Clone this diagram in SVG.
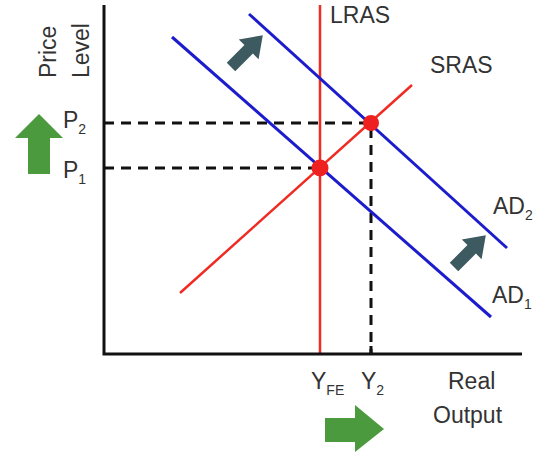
<svg xmlns="http://www.w3.org/2000/svg" width="536" height="452" viewBox="0 0 536 452">
<defs>
<style>
.t{font-family:"Liberation Sans","DejaVu Sans",sans-serif;fill:#333;font-size:23px}
.sub{font-size:14px}
.axis{stroke:#111;stroke-width:3;fill:none}
.dash{stroke:#111;stroke-width:3;stroke-dasharray:10 7;fill:none}
.red{stroke:#ee2c24;stroke-width:2.5;fill:none}
.blue{stroke:#1c1ccc;stroke-width:3;fill:none}
.green{fill:#4b9a3e}
.slate{fill:#3c5a5f}
</style>
<polygon id="diagArrow" points="-6,0 -6,-25 -14,-25 0,-45 14,-25 6,-25 6,0"/>
</defs>
<rect width="536" height="452" fill="#fff"/>
<g id="connectors">
<path class="dash" d="M104 123 H371 V353"/>
<path class="dash" d="M104 168 H320"/>
<path id="lras" class="red" d="M320 5 V353"/>
<path id="sras" class="red" d="M180 293 L412 85"/>
<path id="ad1" class="blue" d="M172 37 L491 317"/>
<path id="ad2" class="blue" d="M249 14 L507 248"/>
<path class="axis" d="M104 5 V354 H522"/>
<path class="axis" d="M371 346 V354" stroke-width="2"/>
</g>
<g id="eq1"><circle cx="320" cy="168" r="8.5" fill="#ee2020"/></g>
<g id="eq2"><circle cx="371" cy="123" r="8" fill="#ee2020"/></g>
<g id="axis-labels">
<text class="t" transform="translate(56 78) rotate(-90)">Price</text>
<text class="t" transform="translate(89 78) rotate(-90)">Level</text>
<text class="t" x="448" y="389">Real</text>
<text class="t" x="433" y="423">Output</text>
</g>
<g id="p-labels">
<text class="t" x="63" y="128">P<tspan class="sub" dy="6">2</tspan></text>
<text class="t" x="63" y="178">P<tspan class="sub" dy="6">1</tspan></text>
<text class="t" x="311" y="389">Y<tspan class="sub" dy="6">FE</tspan></text>
<text class="t" x="361" y="389">Y<tspan class="sub" dy="6">2</tspan></text>
</g>
<g id="curve-labels">
<text class="t" x="330" y="23">LRAS</text>
<text class="t" x="430" y="73">SRAS</text>
<text class="t" x="493" y="214">AD<tspan class="sub" dy="6">2</tspan></text>
<text class="t" x="492" y="303">AD<tspan class="sub" dy="6">1</tspan></text>
</g>
<g id="green-up"><polygon class="green" points="28,174 50,174 50,138 63,138 39,114 15,138 28,138"/></g>
<g id="green-right"><polygon class="green" points="325,418 355,418 355,405 384,429 355,452 355,442 325,442"/></g>
<g id="shift-arrow-1"><use href="#diagArrow" class="slate" transform="translate(231 67) rotate(45)"/></g>
<g id="shift-arrow-2"><use href="#diagArrow" class="slate" transform="translate(454 267) rotate(45)"/></g>
</svg>
